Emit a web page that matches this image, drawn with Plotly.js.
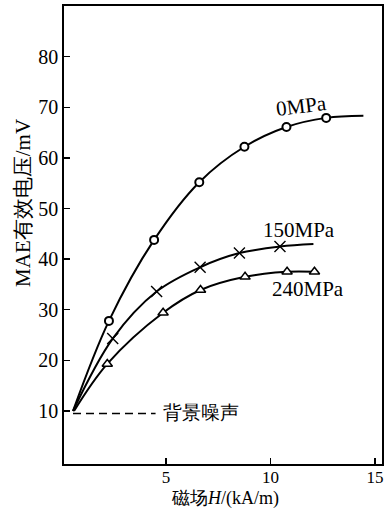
<!DOCTYPE html>
<html>
<head>
<meta charset="utf-8">
<script src="https://cdn.plot.ly/plotly-3.0.1.min.js"></script>
<style>html,body{margin:0;padding:0;background:#fff;}#chart{width:384px;height:509px;}</style>
</head>
<body>
<div id="chart"></div>
<script>
// 0 MPa curve (line through start, markers, end)
const x0 = [0.55, 2.27, 4.43, 6.59, 8.75, 10.76, 12.66, 14.44];
const y0 = [10, 27.8, 43.8, 55.2, 62.2, 66.1, 67.9, 68.3];
const m0x = [2.27, 4.43, 6.59, 8.75, 10.76, 12.66];
const m0y = [27.8, 43.8, 55.2, 62.2, 66.1, 67.9];
// 150 MPa
const x150 = [0.55, 2.45, 4.55, 6.63, 8.51, 10.45, 12.05];
const y150 = [10, 24.3, 33.6, 38.4, 41.2, 42.5, 43.0];
const m150x = [2.45, 4.55, 6.63, 8.51, 10.45];
const m150y = [24.3, 33.6, 38.4, 41.2, 42.5];
// 240 MPa
const x240 = [0.6, 2.19, 4.86, 6.65, 8.78, 10.79, 12.1];
const y240 = [10, 19.3, 29.4, 33.9, 36.5, 37.5, 37.5];
const m240x = [2.19, 4.86, 6.65, 8.78, 10.79, 12.1];
const m240y = [19.3, 29.4, 33.9, 36.5, 37.5, 37.5];
// background noise
const noiseX = [0.55, 4.5];
const noiseY = [9.5, 9.5];
const xTicks = [5, 10, 15];
const yTicks = [10, 20, 30, 40, 50, 60, 70, 80];
const seriesLabels = ['0MPa', '150MPa', '240MPa'];
const noiseLabel = '背景噪声';
const xTitle = '磁场<i>H</i>/(kA/m)';
const yTitle = 'MAE有效电压/mV';

const FONT = 'Liberation Serif, serif';
const lineStyle = {color: '#000', width: 2, shape: 'spline', smoothing: 1};

const traces = [
  {x: noiseX, y: noiseY, mode: 'lines', line: {color: '#000', width: 1.5, dash: '8px,5px'}},
  {x: x0, y: y0, mode: 'lines', line: lineStyle},
  {x: x150, y: y150, mode: 'lines', line: lineStyle},
  {x: x240, y: y240, mode: 'lines', line: lineStyle},
  {x: m0x, y: m0y, mode: 'markers', marker: {symbol: 'circle', size: 8, color: '#fff', line: {color: '#000', width: 2}}},
  {x: m150x, y: m150y, mode: 'markers', marker: {symbol: 'x-thin-open', size: 11, color: '#000', line: {color: '#000', width: 1.4}}},
  {x: m240x, y: m240y, mode: 'markers', marker: {symbol: 'triangle-up', size: 9, color: '#fff', line: {color: '#000', width: 1.5}}}
];

const layout = {
  width: 384, height: 509,
  margin: {l: 64, r: 2, t: 6, b: 45},
  paper_bgcolor: '#fff', plot_bgcolor: '#fff',
  showlegend: false,
  font: {family: FONT, color: '#000'},
  xaxis: {
    range: [0.12, 15.33], tickvals: xTicks, ticktext: xTicks.map(String),
    ticks: 'inside', ticklen: 6, tickwidth: 1.3, tickcolor: '#000',
    showline: true, linecolor: '#000', linewidth: 1.8, mirror: true,
    showgrid: false, zeroline: false, ticklabeloverflow: 'allow', ticklabelstandoff: -3,
    tickfont: {family: FONT, size: 17, color: '#000'}
  },
  yaxis: {
    range: [-0.47, 90], tickvals: yTicks, ticktext: yTicks.map(String),
    ticks: 'inside', ticklen: 6, tickwidth: 1.3, tickcolor: '#000',
    showline: true, linecolor: '#000', linewidth: 1.8, mirror: true,
    showgrid: false, zeroline: false,
    tickfont: {family: FONT, size: 20, color: '#000'}
  },
  annotations: [
    {text: seriesLabels[0], x: 11.46, y: 70.3, xref: 'x', yref: 'y', xanchor: 'center', yanchor: 'middle', showarrow: false, textangle: -7, font: {family: FONT, size: 21}},
    {text: seriesLabels[1], x: 11.36, y: 45.7, xref: 'x', yref: 'y', xanchor: 'center', yanchor: 'middle', showarrow: false, font: {family: FONT, size: 21}},
    {text: seriesLabels[2], x: 11.77, y: 34.1, xref: 'x', yref: 'y', xanchor: 'center', yanchor: 'middle', showarrow: false, font: {family: FONT, size: 21}},
    {text: noiseLabel, x: 4.76, y: 9.7, xref: 'x', yref: 'y', xanchor: 'left', yanchor: 'middle', showarrow: false, font: {family: FONT, size: 19}},
    {text: yTitle, x: -0.129, y: 0.57, xref: 'paper', yref: 'paper', xanchor: 'center', yanchor: 'middle', showarrow: false, textangle: -90, font: {family: FONT, size: 21}},
    {text: xTitle, x: 0.506, y: -0.076, xref: 'paper', yref: 'paper', xanchor: 'center', yanchor: 'middle', showarrow: false, font: {family: FONT, size: 18}}
  ]
};

Plotly.newPlot('chart', traces, layout, {staticPlot: true, displayModeBar: false});
</script>
</body>
</html>
